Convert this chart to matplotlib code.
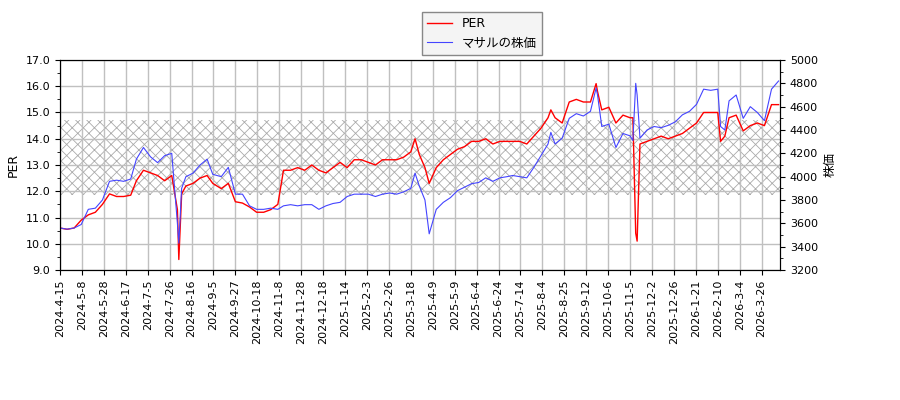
import matplotlib
matplotlib.use("Agg")
import matplotlib.pyplot as plt
from matplotlib.ticker import MultipleLocator

plt.rcParams["font.family"] = ["DejaVu Sans", "Noto Sans CJK JP"]
plt.rcParams["hatch.linewidth"] = 0.6

tick_labels = ["2024-4-15", "2024-5-8", "2024-5-28", "2024-6-17", "2024-7-5", "2024-7-26",
               "2024-8-16", "2024-9-5", "2024-9-27", "2024-10-18", "2024-11-8", "2024-11-28",
               "2024-12-18", "2025-1-14", "2025-2-3", "2025-2-26", "2025-3-18", "2025-4-9",
               "2025-5-9", "2025-6-4", "2025-6-24", "2025-7-14", "2025-8-4", "2025-8-25",
               "2025-9-12", "2025-10-6", "2025-11-5", "2025-12-2", "2025-12-26", "2026-1-21",
               "2026-2-10", "2026-3-4", "2026-3-26"]

days = [0, 5, 10, 15, 20, 25, 30, 35, 40, 45, 50, 54, 59, 64, 69, 74, 79, 83, 84, 86, 89,
        94, 99, 104, 108, 114, 119, 124, 129, 134, 139, 144, 149, 154, 158, 163, 168, 173,
        178, 183, 188, 193, 198, 203, 208, 213, 218, 223, 228, 233, 238, 243, 248, 251, 254,
        258, 261, 266, 271, 276, 281, 286, 291, 296, 301, 306, 311, 316, 320, 325, 330, 335,
        340, 345, 347, 350, 355, 360, 365, 370, 375, 379, 380, 383, 388, 393, 398, 403, 405,
        407, 408, 410, 415, 420, 425, 430, 435, 440, 445, 450, 455, 460, 465, 467, 470, 473,
        478, 483, 488, 493, 498, 503, 508]

per = [10.6, 10.55, 10.6, 10.9, 11.1, 11.2, 11.5, 11.9, 11.8, 11.8, 11.85, 12.4, 12.8, 12.7,
       12.6, 12.4, 12.6, 11.3, 9.4, 11.9, 12.2, 12.3, 12.5, 12.6, 12.3, 12.1, 12.3, 11.6,
       11.55, 11.4, 11.2, 11.2, 11.3, 11.5, 12.8, 12.8, 12.9, 12.8, 13.0, 12.8, 12.7, 12.9,
       13.1, 12.9, 13.2, 13.2, 13.1, 13.0, 13.2, 13.2, 13.2, 13.3, 13.5, 14.0, 13.4, 12.9,
       12.3, 12.9, 13.2, 13.4, 13.6, 13.7, 13.9, 13.9, 14.0, 13.8, 13.9, 13.9, 13.9, 13.9,
       13.8, 14.1, 14.4, 14.8, 15.1, 14.8, 14.6, 15.4, 15.5, 15.4, 15.4, 16.1, 15.8, 15.1,
       15.2, 14.6, 14.9, 14.8, 14.8, 10.4, 10.1, 13.8, 13.9, 14.0, 14.1, 14.0, 14.1, 14.2,
       14.4, 14.6, 15.0, 15.0, 15.0, 13.9, 14.1, 14.8, 14.9, 14.3, 14.5, 14.6, 14.5, 15.3, 15.3]

price = [3560, 3550, 3560, 3590, 3720, 3730, 3800, 3960, 3970, 3960, 3980, 4150, 4250, 4170,
         4120, 4180, 4200, 3600, 3430, 3900, 4000, 4030, 4100, 4150, 4020, 4000, 4080, 3850,
         3850, 3750, 3720, 3720, 3730, 3720, 3750, 3760, 3750, 3760, 3760, 3720, 3750, 3770,
         3780, 3830, 3850, 3850, 3850, 3830, 3850, 3860, 3850, 3870, 3900, 4030, 3920, 3800,
         3510, 3720, 3780, 3820, 3880, 3910, 3940, 3950, 3990, 3960, 3990, 4000, 4010, 4000,
         3990, 4080, 4180, 4280, 4380, 4280, 4330, 4500, 4540, 4520, 4560, 4760, 4700, 4430,
         4450, 4250, 4370, 4350, 4310, 4800, 4700, 4330, 4400, 4430, 4420, 4440, 4470, 4530,
         4560, 4620, 4750, 4740, 4750, 4430, 4400, 4650, 4700, 4500, 4600, 4550, 4480, 4750, 4820]

# ticks every ~15 trading days in the source chart
tick_step = 15.5

fig = plt.figure(figsize=(9, 4), dpi=100)
ax = fig.add_axes([60 / 900, 130 / 400, 720 / 900, 210 / 400])
ax2 = ax.twinx()

ax.axhspan(11.85, 14.7, facecolor="none", edgecolor="#aaaaaa", hatch="xxx", linewidth=0)
l1, = ax.plot(days, per, color="red", linewidth=1, label="PER")
l2, = ax2.plot(days, price, color="#4444ff", linewidth=0.8, label="マサルの株価")

ax.set_xlim(0, 509)
ax.set_ylim(9, 17)
ax2.set_ylim(3200, 5000)
ax.yaxis.set_major_locator(MultipleLocator(1))
ax.yaxis.set_minor_locator(MultipleLocator(0.5))
ax2.yaxis.set_major_locator(MultipleLocator(200))
ax2.yaxis.set_minor_locator(MultipleLocator(100))
ax.yaxis.set_major_formatter(matplotlib.ticker.FormatStrFormatter("%.1f"))
ax.set_xticks([i * tick_step for i in range(len(tick_labels))])
ax.set_xticklabels(tick_labels, rotation=90, fontsize=8)
ax.tick_params(axis="y", labelsize=8)
ax2.tick_params(axis="y", labelsize=8)
ax.grid(True, color="#c0c0c0", linewidth=1)
ax.set_ylabel("PER", fontsize=9)
ax2.set_ylabel("株価", fontsize=9)

fig.legend([l1, l2], ["PER", "マサルの株価"], loc="upper center",
           bbox_to_anchor=(0.535, 0.985), fontsize=9, framealpha=1, fancybox=False,
           facecolor="#f4f4f4", edgecolor="#888888")

fig.savefig("out.png", dpi=100)
